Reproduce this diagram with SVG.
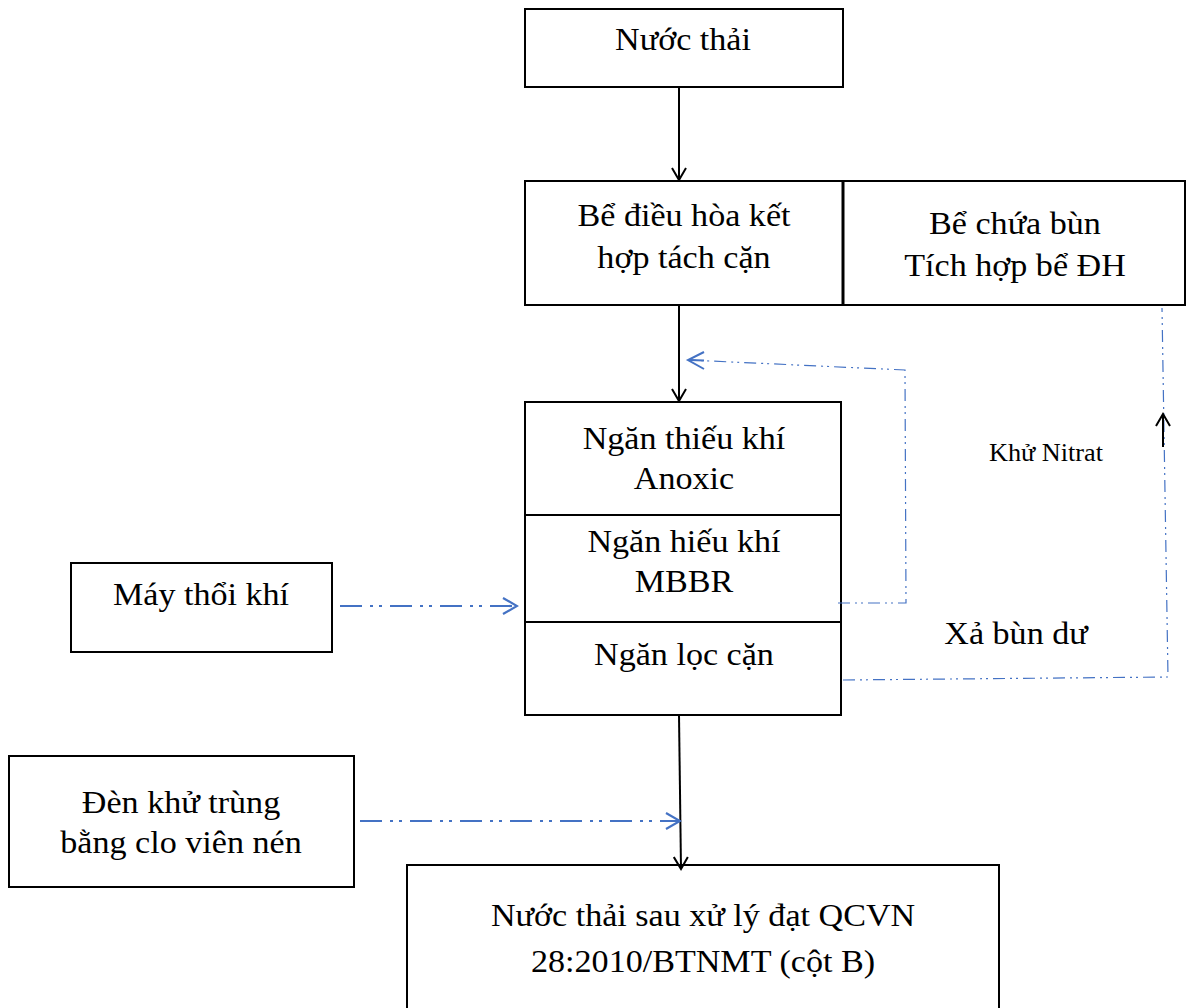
<svg xmlns="http://www.w3.org/2000/svg" width="1187" height="1008" viewBox="0 0 1187 1008">
<defs>
<style>
.box{fill:#fff;stroke:#000;stroke-width:2}
.t{font-family:"Liberation Serif","Times New Roman",serif;font-size:31px;fill:#000;text-anchor:middle}
.s{font-family:"Liberation Serif","Times New Roman",serif;font-size:25px;fill:#000;text-anchor:middle}
.blk{fill:none;stroke:#000;stroke-width:2}
.bl{fill:none;stroke:#4472C4;stroke-width:2.2;stroke-dasharray:22 8 3 6 3 8}
.bt{fill:none;stroke:#4472C4;stroke-width:1.2;stroke-dasharray:12 5 2 4 2 5}
</style>
<marker id="ak" markerWidth="16" markerHeight="16" refX="14" refY="8" orient="auto" markerUnits="userSpaceOnUse"><path d="M2,1 L14,8 L2,15" fill="none" stroke="#000" stroke-width="2"/></marker>
<marker id="ab" markerWidth="18" markerHeight="18" refX="16" refY="9" orient="auto" markerUnits="userSpaceOnUse"><path d="M2,1 L16,9 L2,17" fill="none" stroke="#4472C4" stroke-width="2.2"/></marker>
</defs>
<rect width="1187" height="1008" fill="#fff"/>
<g id="n1"><rect class="box" x="525" y="9" width="318" height="78"/><text class="t" transform="matrix(1.1 0 0 1 683 0)" x="0" y="50">Nước thải</text></g>
<g id="n2"><rect class="box" x="525" y="181" width="318" height="124"/><text class="t" transform="matrix(1.1 0 0 1 684 0)" x="0" y="226">Bể điều hòa kết</text><text class="t" transform="matrix(1.1 0 0 1 684 0)" x="0" y="268">hợp tách cặn</text></g>
<g id="n3"><rect class="box" x="843" y="181" width="342" height="124"/><line x1="843" y1="181" x2="843" y2="305" stroke="#000" stroke-width="3"/><text class="t" transform="matrix(1.1 0 0 1 1015 0)" x="0" y="234">Bể chứa bùn</text><text class="t" transform="matrix(1.1 0 0 1 1015 0)" x="0" y="276">Tích hợp bể ĐH</text></g>
<g id="n4"><rect class="box" x="525" y="402" width="316" height="313"/><line x1="525" y1="515" x2="841" y2="515" stroke="#000" stroke-width="2"/><line x1="525" y1="622" x2="841" y2="622" stroke="#000" stroke-width="2"/><text class="t" transform="matrix(1.1 0 0 1 684 0)" x="0" y="449">Ngăn thiếu khí</text><text class="t" transform="matrix(1.1 0 0 1 684 0)" x="0" y="489">Anoxic</text><text class="t" transform="matrix(1.1 0 0 1 684 0)" x="0" y="552">Ngăn hiếu khí</text><text class="t" transform="matrix(1.1 0 0 1 684 0)" x="0" y="592">MBBR</text><text class="t" transform="matrix(1.1 0 0 1 684 0)" x="0" y="665">Ngăn lọc cặn</text></g>
<g id="n5"><rect class="box" x="71" y="563" width="261" height="89"/><text class="t" transform="matrix(1.1 0 0 1 201 0)" x="0" y="605">Máy thổi khí</text></g>
<g id="n6"><rect class="box" x="9" y="756" width="345" height="131"/><text class="t" transform="matrix(1.1 0 0 1 181 0)" x="0" y="813">Đèn khử trùng</text><text class="t" transform="matrix(1.1 0 0 1 181 0)" x="0" y="853">bằng clo viên nén</text></g>
<g id="n7"><rect class="box" x="407" y="865" width="592" height="150"/><text class="t" transform="matrix(1.1 0 0 1 703 0)" x="0" y="926">Nước thải sau xử lý đạt QCVN</text><text class="t" transform="matrix(1.1 0 0 1 703 0)" x="0" y="972">28:2010/BTNMT (cột B)</text></g>
<g id="labels"><text class="s" transform="matrix(1.05 0 0 1 1046 0)" x="0" y="461">Khử Nitrat</text><text class="t" transform="matrix(1.1 0 0 1 1016 0)" x="0" y="644">Xả bùn dư</text></g>
<g id="connectors">
<line class="blk" x1="679" y1="87" x2="679" y2="180" marker-end="url(#ak)"/>
<line class="blk" x1="679" y1="305" x2="679" y2="401" marker-end="url(#ak)"/>
<line class="blk" x1="679" y1="715" x2="681" y2="869" marker-end="url(#ak)"/>
<line class="bl" x1="340" y1="606" x2="517" y2="606" marker-end="url(#ab)"/>
<line class="bl" x1="360" y1="821" x2="680" y2="821" marker-end="url(#ab)"/>
<polyline class="bt" points="838,603 906,603 905,370 688,360"/>
<path d="M704,352 L688,360 L704,369" fill="none" stroke="#4472C4" stroke-width="2"/>
<line x1="690" y1="360" x2="704" y2="360.6" stroke="#4472C4" stroke-width="2"/>
<polyline class="bt" points="843,680 1168,677 1162,308"/>
<line class="blk" x1="1163" y1="447" x2="1163" y2="414" marker-end="url(#ak)"/>
</g>
</svg>
